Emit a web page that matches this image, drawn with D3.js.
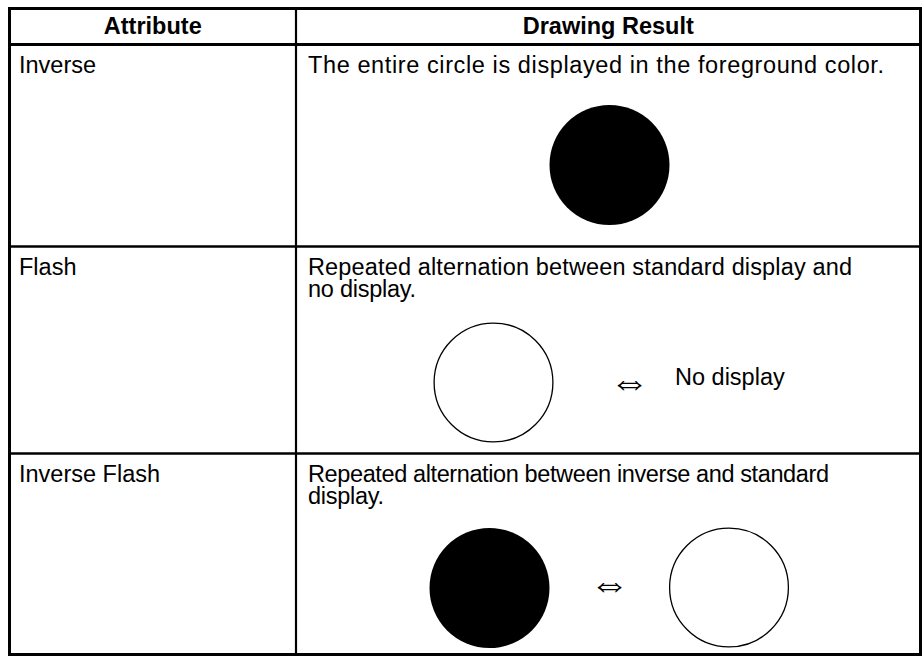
<!DOCTYPE html>
<html>
<head>
<meta charset="utf-8">
<script src="https://cdn.jsdelivr.net/npm/d3@7"></script>
<style>
  html, body { margin: 0; padding: 0; background: #fff; }
  svg { display: block; }
  text { font-family: "Liberation Sans", Arial, Helvetica, sans-serif; fill: #000; }
</style>
</head>
<body>
<svg id="chart" width="924" height="656"></svg>
<script>
// ---- data ----
const headers = ["Attribute", "Drawing Result"];
const attributes = ["Inverse", "Flash", "Inverse Flash"];
const descriptions = [
  ["The entire circle is displayed in the foreground color."],
  ["Repeated alternation between standard display and", "no display."],
  ["Repeated alternation between inverse and standard", "display."]
];
// per row: sequence of items drawn in the result cell
const rowItems = [
  [{type: "filled"}],
  [{type: "outline"}, {type: "arrow"}, {type: "label", text: "No display"}],
  [{type: "filled"}, {type: "arrow"}, {type: "outline"}]
];

// ---- layout ----
const W = 924, H = 656;
const svg = d3.select("#chart");
const colX = d3.scaleOrdinal().domain(["left", "mid", "right"]).range([9.5, 296, 920.5]);
const rowY = d3.scaleOrdinal().domain(["top", "head", "r0", "r1", "r2"]).range([8.5, 44.5, 246.5, 453.5, 654.5]);
const rowTops = [rowY("head"), rowY("r0"), rowY("r1")];
const fs = 23.5;
const lineGap = 21.5;
// rendered widths of description lines (layout, matched to the reference)
const lineWidths = [[576], [544, 108], [521, 76]];

// item positions within each row (x, y offset from row top)
const itemPos = [
  [{x: 609.5, y: 120.5}],
  [{x: 493.5, y: 136}, {x: 629.5, y: 134}, {x: 675, y: 138.5}],
  [{x: 489.5, y: 134.5}, {x: 609.5, y: 129.5}, {x: 729, y: 134}]
];
const R = 60;

// ---- header text ----
svg.append("text").attr("x", (colX("left") + colX("mid")) / 2).attr("y", 34)
  .attr("text-anchor", "middle").attr("font-weight", "bold").attr("font-size", fs).text(headers[0]);
svg.append("text").attr("x", (colX("mid") + colX("right")) / 2).attr("y", 34)
  .attr("text-anchor", "middle").attr("font-weight", "bold").attr("font-size", fs).text(headers[1]);

// ---- rows ----
const rows = svg.selectAll("g.row").data(attributes).join("g").attr("class", "row");
rows.append("text").attr("x", 19).attr("y", (d, i) => rowTops[i] + 28.5)
  .attr("font-size", fs).text(d => d);

rows.each(function(d, i) {
  const g = d3.select(this);
  const top = rowTops[i];
  const t = g.append("text").attr("x", 308).attr("y", top + 28.5).attr("font-size", fs);
  descriptions[i].forEach((line, j) => {
    t.append("tspan").attr("x", 308).attr("dy", j === 0 ? 0 : lineGap)
      .attr("textLength", lineWidths[i][j]).attr("lengthAdjust", "spacing").text(line);
  });
  rowItems[i].forEach((it, k) => {
    const p = itemPos[i][k];
    if (it.type === "filled") {
      g.append("circle").attr("cx", p.x).attr("cy", top + p.y).attr("r", R).attr("fill", "#000");
    } else if (it.type === "outline") {
      g.append("circle").attr("cx", p.x).attr("cy", top + p.y).attr("r", R - 0.6)
        .attr("fill", "#fff").attr("stroke", "#000").attr("stroke-width", 1.3);
    } else if (it.type === "arrow") {
      g.append("text").attr("x", p.x).attr("y", top + p.y).attr("text-anchor", "middle")
        .attr("dominant-baseline", "central")
        .style("font-family", "'DejaVu Sans', sans-serif").style("font-weight", 200)
        .attr("font-size", 40).text("\u21D4");
    } else if (it.type === "label") {
      g.append("text").attr("x", p.x).attr("y", top + p.y).attr("font-size", fs).text(it.text);
    }
  });
});

// ---- grid lines ----
const hLines = [
  {y: rowY("head"), w: 3},
  {y: rowY("r0"), w: 2.5},
  {y: rowY("r1"), w: 2.5}
];
svg.selectAll("line.h").data(hLines).join("line").attr("class", "h")
  .attr("x1", colX("left")).attr("x2", colX("right"))
  .attr("y1", d => d.y).attr("y2", d => d.y)
  .attr("stroke", "#000").attr("stroke-width", d => d.w);
svg.append("line").attr("x1", colX("mid")).attr("x2", colX("mid"))
  .attr("y1", rowY("top")).attr("y2", rowY("r2"))
  .attr("stroke", "#000").attr("stroke-width", 2.2);
svg.append("rect").attr("x", colX("left")).attr("y", rowY("top"))
  .attr("width", colX("right") - colX("left")).attr("height", rowY("r2") - rowY("top"))
  .attr("fill", "none").attr("stroke", "#000").attr("stroke-width", 3);
</script>
</body>
</html>
